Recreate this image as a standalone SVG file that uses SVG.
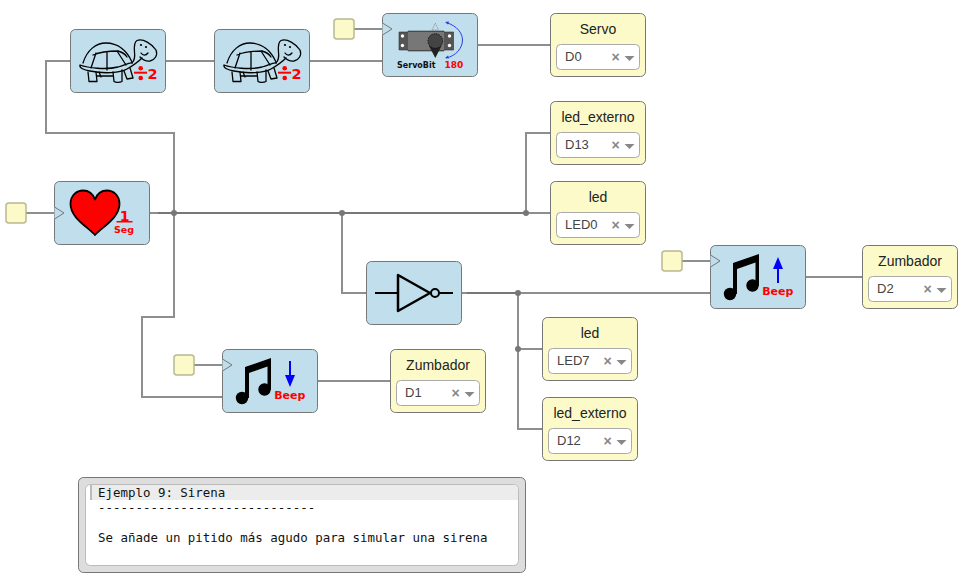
<svg xmlns="http://www.w3.org/2000/svg" width="966" height="582" viewBox="0 0 966 582">
<style>
.w{fill:none;stroke:#8e8e8e;stroke-width:2}
.d{fill:none;stroke:#777;stroke-width:2}
.j{fill:#777}
.b{fill:#c0deeb;stroke:#777;stroke-width:1}
.y{fill:#fcfac8;stroke:#777;stroke-width:1}
.sq{fill:#fcfac8;stroke:#b8b890;stroke-width:1.5}
.s{fill:#fff;stroke:#aaa;stroke-width:1}
.ck{fill:#c0deeb;stroke:#777;stroke-width:1}
.t{font-family:"Liberation Sans",Arial,sans-serif;font-size:14px;fill:#222;text-anchor:middle}
.v{font-family:"Liberation Sans",Arial,sans-serif;font-size:13px;fill:#444}
.x{font-family:"Liberation Sans",Arial,sans-serif;font-size:14px;font-weight:bold;fill:#888;text-anchor:middle}
.c{fill:#888}
.r{font-family:"DejaVu Sans",sans-serif;font-weight:bold;fill:#f00;text-anchor:middle}
.m{font-family:"DejaVu Sans Mono",monospace;font-size:12.45px;fill:#111;white-space:pre}
.tl{fill:none;stroke:#000;stroke-width:1.300;stroke-linejoin:round;stroke-linecap:round}
</style>
<defs>
<g id="turtle">
<path class="tl" d="M83,63C87,50 96,43 106,43C118,43 127,51 132,62"/>
<path class="tl" d="M93,55C100,52 110,51 118,51C122,52 125,54 127,57M96,53L91,68M107,52L107,70M117,51L126,65"/>
<path class="tl" d="M80,65C79,68 84,70 90,71C104,74 120,73 127,69C134,65 139,61 142,58M80,65C88,68 106,70 118,67C125,65 130,62 132,63"/>
<path class="tl" d="M132,63C135,60 135,56 134.500,52C134,46 134,42 137,40.500C143,38 152,44 156,50C158,55 155,60 150,61C146,61.500 142,59 140,57"/>
<path class="tl" d="M141,53C143,56 146,55.500 148,53"/>
<circle cx="141" cy="45" r="1.100"/><circle cx="146" cy="47" r="1.100"/>
<path class="tl" d="M88,72L89,81.500L97,81.500L96,72M113,72L114,81.500C116,83 120,82.500 122,81.500L122,70M124,71L127,79L133,78L130,68M97,76L113,76M99,72L101,77"/>
<path fill="#f00" d="M134,71.700H147V73.700H134Z"/>
<circle cx="140.700" cy="68.300" r="2.300" fill="#f00"/><circle cx="140.700" cy="78" r="2.300" fill="#f00"/>
<text class="r" x="152.500" y="78.500" font-size="14.500">2</text>
</g>
<g id="note">
<circle cx="242" cy="398" r="6.200"/><circle cx="264.500" cy="389.500" r="6.200"/>
<path d="M245,367L271,358V390H267.500V366.500L249,373V398H245Z"/>
</g>
</defs>

<g id="connectors">
<path class="w" d="M70,61H46V133H174V317H142V397H222"/>
<path class="w" d="M165,61H214M309,61H382M477,45H550M354,29H382M26,213H54M150,213H158"/>
<path class="d" d="M158,213H526"/>
<path class="w" d="M526,213H550M526,213V133H550M342,213V293H366"/>
<path class="w" d="M461,293H467M518,293H710M518,293V429H542M518,349H542M682,261H710M805,277H862M194,365H222M317,381H390"/>
<path class="d" d="M467,293H518"/>
<circle class="j" cx="174" cy="213" r="3"/><circle class="j" cx="342" cy="213" r="3"/><circle class="j" cx="526" cy="213" r="3"/><circle class="j" cx="518" cy="293" r="3"/><circle class="j" cx="518" cy="349" r="3"/>
</g>

<g id="turtle1"><rect class="b" x="70.500" y="29.500" width="95" height="63" rx="5"/><use href="#turtle"/></g>
<g id="turtle2"><rect class="b" x="214.500" y="29.500" width="95" height="63" rx="5"/><use href="#turtle" x="144"/></g>

<g id="servo">
<rect class="b" x="382.500" y="13.500" width="95" height="63" rx="5"/>
<path class="ck" d="M382.500,23L392,29L382.500,35"/>
<path d="M399,32H408V31H444V32H453.500V50H444V51H408V50H399Z" fill="#555" stroke="#333" stroke-width=".6"/>
<path d="M408,32H444V50H408Z" fill="#777"/>
<circle cx="402.500" cy="36" r="1.700" fill="#fff"/><circle cx="402.500" cy="45.500" r="1.700" fill="#fff"/><circle cx="449.500" cy="36" r="1.700" fill="#fff"/><circle cx="449.500" cy="45.500" r="1.700" fill="#fff"/>
<path d="M432,30L435.300,23L438.500,30Z" fill="none" stroke="#888" stroke-width=".8" stroke-dasharray="1.500 1"/>
<path d="M429,46L435.300,58L441.500,46Z" fill="#222"/>
<circle cx="435.300" cy="41" r="7.300" fill="#444" stroke="#111" stroke-dasharray="1.500 1"/>
<path d="M446,22.500C458,26 462.500,34 462.500,40C462.500,48 456,56 446,58" fill="none" stroke="#2a3fe0" stroke-width="1"/>
<path d="M445,22L449,21.500L448,24.500ZM445,58L449,58.500L448,55.500Z" fill="#2a3fe0"/>
<text x="397" y="68" font-family="'DejaVu Sans',sans-serif" font-weight="bold" font-size="8" fill="#111">ServoBit</text>
<text class="r" x="454" y="68" font-size="9">180</text>
</g>

<g id="heart">
<rect class="b" x="54.500" y="181.500" width="95" height="63" rx="5"/>
<path class="ck" d="M54.500,207L64,213L54.500,219"/>
<path d="M95,235C88,227 70.500,218 70.500,204C70.500,195 77,190.500 83,190.500C89,190.500 93,194 95,199.500C97,194 101,190.500 107,190.500C113,190.500 119.500,195 119.500,204C119.500,218 102,227 95,235Z" fill="#f00" stroke="#000" stroke-width="1.800" stroke-linejoin="round"/>
<text class="r" x="124.500" y="220.500" font-size="14">1</text>
<rect x="116.500" y="221" width="16" height="1.500" fill="#f00"/>
<text class="r" x="124" y="232.500" font-size="9.500">Seg</text>
</g>

<g id="inverter">
<rect class="b" x="366.500" y="261.500" width="95" height="63" rx="5"/>
<path d="M375,293H398M439,293H453" stroke="#000" stroke-width="2" fill="none"/>
<path d="M398,275V311L430,293Z" fill="none" stroke="#000" stroke-width="2.500" stroke-linejoin="round"/>
<circle cx="435" cy="293" r="4" fill="none" stroke="#000" stroke-width="2"/>
</g>

<g id="beepDown">
<rect class="b" x="222.500" y="349.500" width="95" height="63" rx="5"/>
<path class="ck" d="M222.500,359L232,365L222.500,371"/>
<use href="#note"/>
<path d="M289,361H291V375H295L290,387L285,375H289Z" fill="#00f"/>
<text class="r" x="289.800" y="399" font-size="11">Beep</text>
</g>

<g id="beepUp">
<rect class="b" x="710.500" y="245.500" width="95" height="63" rx="5"/>
<path class="ck" d="M710.500,255L720,261L710.500,267"/>
<use href="#note" x="488" y="-104"/>
<path d="M777,283H779V269H783L778,257L773,269H777Z" fill="#00f"/>
<text class="r" x="777.800" y="295" font-size="11">Beep</text>
</g>

<g id="inSq1"><rect class="sq" x="6" y="203" width="20" height="20" rx="3"/></g>
<g id="inSq2"><rect class="sq" x="334" y="19" width="20" height="20" rx="3"/></g>
<g id="inSq3"><rect class="sq" x="662" y="251" width="20" height="20" rx="3"/></g>
<g id="inSq4"><rect class="sq" x="174" y="355" width="20" height="20" rx="3"/></g>

<g id="lblServo"><rect class="y" x="550.500" y="13.500" width="95" height="63" rx="5"/><text class="t" x="598" y="34">Servo</text><rect class="s" x="556.500" y="44.500" width="83" height="25" rx="4"/><text class="v" x="565" y="61">D0</text><text class="x" x="615.500" y="62">×</text><path class="c" d="M624.500,56H634.500L629.500,61Z"/></g>
<g id="lblLedExt13"><rect class="y" x="550.500" y="101.500" width="95" height="63" rx="5"/><text class="t" x="598" y="122">led_externo</text><rect class="s" x="556.500" y="132.500" width="83" height="25" rx="4"/><text class="v" x="565" y="149">D13</text><text class="x" x="615.500" y="150">×</text><path class="c" d="M624.500,144H634.500L629.500,149Z"/></g>
<g id="lblLed0"><rect class="y" x="550.500" y="181.500" width="95" height="63" rx="5"/><text class="t" x="598" y="202">led</text><rect class="s" x="556.500" y="212.500" width="83" height="25" rx="4"/><text class="v" x="565" y="229">LED0</text><text class="x" x="615.500" y="230">×</text><path class="c" d="M624.500,224H634.500L629.500,229Z"/></g>
<g id="lblZumb2"><rect class="y" x="862.500" y="245.500" width="95" height="63" rx="5"/><text class="t" x="910" y="266">Zumbador</text><rect class="s" x="868.500" y="276.500" width="83" height="25" rx="4"/><text class="v" x="877" y="293">D2</text><text class="x" x="927.500" y="294">×</text><path class="c" d="M936.500,288H946.500L941.500,293Z"/></g>
<g id="lblLed7"><rect class="y" x="542.500" y="317.500" width="95" height="63" rx="5"/><text class="t" x="590" y="338">led</text><rect class="s" x="548.500" y="348.500" width="83" height="25" rx="4"/><text class="v" x="557" y="365">LED7</text><text class="x" x="607.500" y="366">×</text><path class="c" d="M616.500,360H626.500L621.500,365Z"/></g>
<g id="lblLedExt12"><rect class="y" x="542.500" y="397.500" width="95" height="63" rx="5"/><text class="t" x="590" y="418">led_externo</text><rect class="s" x="548.500" y="428.500" width="83" height="25" rx="4"/><text class="v" x="557" y="445">D12</text><text class="x" x="607.500" y="446">×</text><path class="c" d="M616.500,440H626.500L621.500,445Z"/></g>
<g id="lblZumb1"><rect class="y" x="390.500" y="349.500" width="95" height="63" rx="5"/><text class="t" x="438" y="370">Zumbador</text><rect class="s" x="396.500" y="380.500" width="83" height="25" rx="4"/><text class="v" x="405" y="397">D1</text><text class="x" x="455.500" y="398">×</text><path class="c" d="M464.500,392H474.500L469.500,397Z"/></g>

<g id="info">
<rect x="78.500" y="477.500" width="447" height="95" rx="5" fill="#ddd" stroke="#777"/>
<rect x="85.500" y="484.500" width="433" height="81" rx="5" fill="#fff" stroke="#bbb"/>
<path d="M90,485H514C517,485 518,487 518,490V500H90Z" fill="#ececec"/>
<rect x="90" y="485" width="2" height="15" fill="#bbb"/>
<text class="m" x="98" y="497">Ejemplo 9: Sirena</text>
<text class="m" x="98" y="512">-----------------------------</text>
<text class="m" x="98" y="542">Se añade un pitido más agudo para simular una sirena</text>
</g>
</svg>
